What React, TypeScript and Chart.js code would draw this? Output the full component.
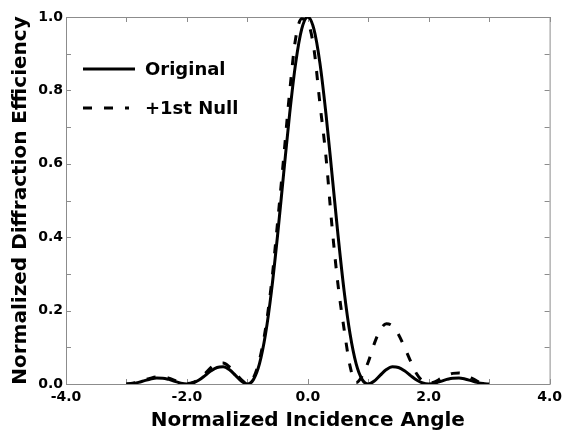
import React, { useEffect, useRef } from "react";
import { Chart, registerables } from "chart.js";

Chart.register(...registerables);

// Normalized incidence angle samples
const xValues = [
  -3.0, -2.9, -2.8, -2.7, -2.6, -2.5, -2.4, -2.3, -2.2, -2.1,
  -2.0, -1.9, -1.8, -1.7, -1.6, -1.5, -1.4, -1.3, -1.2, -1.1,
  -1.0, -0.9, -0.8, -0.7, -0.6, -0.5, -0.4, -0.3, -0.2, -0.1,
  0.0, 0.1, 0.2, 0.3, 0.4, 0.5, 0.6, 0.7, 0.8, 0.9,
  1.0, 1.1, 1.2, 1.3, 1.4, 1.5, 1.6, 1.7, 1.8, 1.9,
  2.0, 2.1, 2.2, 2.3, 2.4, 2.5, 2.6, 2.7, 2.8, 2.9,
  3.0,
];

// "Original" (solid)
const originalValues = [
  0.0, 0.0012, 0.0045, 0.0091, 0.0136, 0.0162, 0.0159, 0.0125, 0.0072, 0.0022,
  0.0, 0.0027, 0.0108, 0.0229, 0.0358, 0.045, 0.0468, 0.0392, 0.0243, 0.008,
  0.0, 0.0119, 0.0547, 0.1353, 0.2546, 0.4053, 0.5728, 0.7368, 0.8751, 0.9675,
  1.0, 0.9675, 0.8751, 0.7368, 0.5728, 0.4053, 0.2546, 0.1353, 0.0547, 0.0119,
  0.0, 0.008, 0.0243, 0.0392, 0.0468, 0.045, 0.0358, 0.0229, 0.0108, 0.0027,
  0.0, 0.0022, 0.0072, 0.0125, 0.0159, 0.0162, 0.0136, 0.0091, 0.0045, 0.0012,
  0.0,
];

// "+1st Null" (dashed)
const firstNullValues = [
  0.0, 0.002, 0.006, 0.011, 0.016, 0.019, 0.019, 0.016, 0.01, 0.004,
  0.001, 0.004, 0.013, 0.028, 0.045, 0.056, 0.057, 0.047, 0.03, 0.012,
  0.001, 0.017, 0.065, 0.15, 0.275, 0.44, 0.615, 0.796, 0.943, 0.995,
  0.985, 0.915, 0.765, 0.62, 0.43, 0.27, 0.15, 0.048, 0.004, 0.022,
  0.06, 0.11, 0.148, 0.164, 0.158, 0.135, 0.1, 0.062, 0.028, 0.008,
  0.002, 0.006, 0.015, 0.024, 0.029, 0.03, 0.026, 0.017, 0.008, 0.002,
  0.0,
];

const seriesNames = ["Original", "+1st Null"];
const xLabelValues = [-4, -2, 0, 2, 4];
const yLabelValues = [0, 0.2, 0.4, 0.6, 0.8, 1.0];
const xTitle = "Normalized Incidence Angle";
const yTitle = "Normalized Diffraction Efficiency";

const FONT = "'DejaVu Sans', 'Liberation Sans', sans-serif";

const framePlugin = {
  id: "frameTicks",
  beforeDatasetsDraw(chart: any) {
    const { ctx, chartArea: a, scales } = chart;
    ctx.save();
    ctx.strokeStyle = "#8c8c8c";
    ctx.lineWidth = 1;
    ctx.strokeRect(a.left + 0.5, a.top + 0.5, a.right - a.left, a.bottom - a.top);
    ctx.beginPath();
    const tl = 5;
    for (const t of scales.x.ticks) {
      const px = Math.round(scales.x.getPixelForValue(t.value)) + 0.5;
      ctx.moveTo(px, a.bottom);
      ctx.lineTo(px, a.bottom - tl);
      ctx.moveTo(px, a.top);
      ctx.lineTo(px, a.top + tl);
    }
    for (const t of scales.y.ticks) {
      const py = Math.round(scales.y.getPixelForValue(t.value)) + 0.5;
      ctx.moveTo(a.left, py);
      ctx.lineTo(a.left + tl, py);
      ctx.moveTo(a.right, py);
      ctx.lineTo(a.right - tl, py);
    }
    ctx.stroke();
    ctx.restore();
  },
};

const legendPlugin = {
  id: "insideLegend",
  afterDraw(chart: any) {
    const { ctx } = chart;
    const rows = [69, 108];
    ctx.save();
    chart.data.datasets.forEach((ds: any, i: number) => {
      const y = rows[i];
      ctx.beginPath();
      ctx.strokeStyle = ds.borderColor;
      ctx.lineWidth = ds.borderWidth;
      ctx.setLineDash(ds.borderDash || []);
      ctx.lineCap = "butt";
      ctx.moveTo(83, y);
      ctx.lineTo(ds.borderDash && ds.borderDash.length ? 129 : 135, y);
      ctx.stroke();
      ctx.setLineDash([]);
      ctx.fillStyle = "#000";
      ctx.font = `bold 18px ${FONT}`;
      ctx.textBaseline = "middle";
      ctx.textAlign = "left";
      ctx.fillText(ds.label, 145, y + 1);
    });
    ctx.restore();
  },
};

export default function App() {
  const ref = useRef<HTMLCanvasElement | null>(null);

  useEffect(() => {
    document.body.style.margin = "0";
    const canvas = ref.current;
    if (!canvas) return;
    const chart = new Chart(canvas, {
      type: "line",
      data: {
        datasets: [
          {
            label: seriesNames[0],
            data: xValues.map((x, i) => ({ x, y: originalValues[i] })),
            borderColor: "#000",
            borderWidth: 3,
            pointRadius: 0,
            fill: false,
            cubicInterpolationMode: "monotone",
          },
          {
            label: seriesNames[1],
            data: xValues.map((x, i) => ({ x, y: firstNullValues[i] })),
            borderColor: "#000",
            borderWidth: 3,
            borderDash: [9, 12],
            pointRadius: 0,
            fill: false,
            cubicInterpolationMode: "monotone",
          },
        ],
      },
      options: {
        animation: false,
        responsive: false,
        devicePixelRatio: 1,
        layout: { padding: { left: 0, right: 17, top: 17, bottom: 0 } },
        plugins: {
          legend: { display: false },
          tooltip: { enabled: false },
        },
        scales: {
          x: {
            type: "linear",
            min: -4,
            max: 4,
            afterFit(s: any) {
              s.height = 51;
            },
            grid: { display: false, drawTicks: false },
            border: { display: false },
            ticks: {
              stepSize: 1,
              autoSkip: false,
              maxRotation: 0,
              padding: 5,
              color: "#000",
              font: { family: FONT, size: 14, weight: "bold" },
              callback: (v: any) => {
                const n = Number(v);
                return xLabelValues.some((l) => Math.abs(l - n) < 1e-6) ? n.toFixed(1) : "";
              },
            },
            title: {
              display: true,
              text: xTitle,
              color: "#000",
              font: { family: FONT, size: 20, weight: "bold" },
              padding: { top: 0, bottom: 2.5 },
            },
          },
          y: {
            type: "linear",
            min: 0,
            max: 1,
            afterFit(s: any) {
              s.width = 66;
            },
            grid: { display: false, drawTicks: false },
            border: { display: false },
            ticks: {
              stepSize: 0.1,
              autoSkip: false,
              padding: 3,
              color: "#000",
              font: { family: FONT, size: 14, weight: "bold" },
              callback: (v: any) => {
                const n = Number(v);
                return yLabelValues.some((l) => Math.abs(l - n) < 1e-6) ? n.toFixed(1) : "";
              },
            },
            title: {
              display: true,
              text: yTitle,
              color: "#000",
              font: { family: FONT, size: 20, weight: "bold" },
              padding: { top: 9, bottom: 0 },
            },
          },
        },
      },
      plugins: [framePlugin, legendPlugin],
    } as any);
    return () => chart.destroy();
  }, []);

  return (
    <div style={{ width: 567, height: 435 }}>
      <canvas ref={ref} width={567} height={435} style={{ display: "block" }} />
    </div>
  );
}
